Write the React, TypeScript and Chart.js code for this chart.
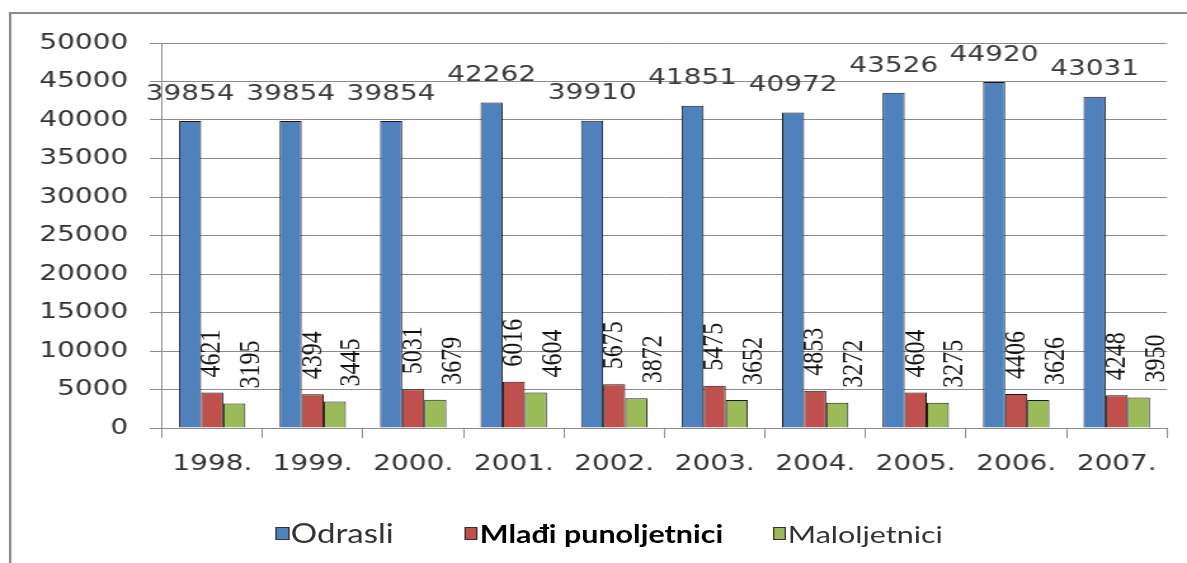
import React, { useEffect, useRef } from "react";
import { Chart, registerables } from "chart.js";

Chart.register(...registerables);

const years = ["1998.", "1999.", "2000.", "2001.", "2002.", "2003.", "2004.", "2005.", "2006.", "2007."];
const odrasli = [39854, 39854, 39854, 42262, 39910, 41851, 40972, 43526, 44920, 43031];
const mladiPunoljetnici = [4621, 4394, 5031, 6016, 5675, 5475, 4853, 4604, 4406, 4248];
const maloljetnici = [3195, 3445, 3679, 4604, 3872, 3652, 3272, 3275, 3626, 3950];
const seriesNames = ["Odrasli", "Mlađi punoljetnici", "Maloljetnici"];
const seriesColors = ["#4F81BD", "#C0504D", "#9BBB59"];
const yMax = 50000;
const yStep = 5000;

const W = 935;
const H = 563;
const STRETCH = 1187 / W;

const labelPlugin = {
  id: "barLabels",
  afterDatasetsDraw(chart: any) {
    const ctx = chart.ctx;
    ctx.save();
    chart.data.datasets.forEach((ds: any, i: number) => {
      const meta = chart.getDatasetMeta(i);
      meta.data.forEach((bar: any, j: number) => {
        const v = ds.data[j];
        const { x, y } = bar.getProps(["x", "y"], true);
        if (i === 0) {
          ctx.font = '22px "DejaVu Sans"';
          ctx.fillStyle = "#3a3a3a";
          ctx.textAlign = "center";
          ctx.textBaseline = "middle";
          ctx.fillText(String(v), x, y - 27);
        } else {
          ctx.save();
          ctx.translate(x + (i === 2 ? 13.4 : 0), y - 15);
          ctx.rotate(-Math.PI / 2);
          ctx.font = '24px "Liberation Serif"';
          ctx.fillStyle = "#111";
          ctx.textAlign = "left";
          ctx.textBaseline = "middle";
          ctx.fillText(String(v), 0, 0);
          ctx.restore();
        }
      });
    });
    ctx.restore();
  },
};

const legendItems = [
  { left: 217.4, font: '400 26px Lato', color: "#333" },
  { left: 366.3, font: '700 24px Lato', color: "#000" },
  { left: 608.9, font: '400 24px Lato', color: "#333" },
];

export default function App() {
  const ref = useRef<HTMLCanvasElement>(null);
  useEffect(() => {
    const gridColor = "#8c8c8c";
    const tickFont = { family: "DejaVu Sans", size: 22 };
    const tickColor = "#333";
    const chart = new Chart(ref.current!, {
      type: "bar",
      data: {
        labels: years,
        datasets: [odrasli, mladiPunoljetnici, maloljetnici].map((d, i) => ({
          label: seriesNames[i],
          data: d,
          backgroundColor: seriesColors[i],
          borderColor: "#1a1a1a",
          borderWidth: 1,
          categoryPercentage: 0.66,
          barPercentage: 1,
        })),
      },
      options: {
        responsive: false,
        animation: false,
        layout: { padding: { top: 43, right: 15.8, left: 0, bottom: 0 } },
        plugins: { legend: { display: false }, tooltip: { enabled: false } },
        scales: {
          x: {
            grid: { display: true, drawOnChartArea: false, drawTicks: true, tickLength: 10, color: gridColor, offset: true },
            border: { display: true, color: gridColor },
            ticks: { font: tickFont, color: tickColor, padding: 13, maxRotation: 0 },
            afterFit: (s: any) => {
              s.height = 135;
            },
          },
          y: {
            min: 0,
            max: yMax,
            ticks: {
              stepSize: yStep,
              font: tickFont,
              color: tickColor,
              padding: 17,
              callback: (v: any) => String(v),
            },
            grid: { color: gridColor, tickLength: 9.5 },
            border: { display: true, color: gridColor },
            afterFit: (s: any) => {
              s.width = 127.6;
            },
          },
        },
      },
      plugins: [labelPlugin],
    });
    return () => chart.destroy();
  }, []);

  return (
    <div
      style={{
        position: "fixed",
        left: 0,
        top: 0,
        width: W,
        height: H,
        transform: `scaleX(${STRETCH})`,
        transformOrigin: "0 0",
        overflow: "hidden",
        background: "#fff",
      }}
    >
      <div
        style={{
          position: "absolute",
          left: 6.5,
          top: 12,
          width: W - 6.5,
          height: H - 12,
          boxSizing: "border-box",
          borderLeft: "2.7px solid #8c8c8c",
          borderTop: "2px solid #8c8c8c",
        }}
      />
      <canvas ref={ref} width={W} height={H} style={{ position: "absolute", left: 0, top: 0, width: W, height: H }} />
      {seriesNames.map((name, i) => (
        <div
          key={name}
          style={{
            position: "absolute",
            left: legendItems[i].left,
            top: 517,
            height: 32,
            display: "flex",
            alignItems: "center",
            font: legendItems[i].font,
            color: legendItems[i].color,
            whiteSpace: "nowrap",
          }}
        >
          <span
            style={{
              display: "inline-block",
              width: 10.2,
              height: 13,
              background: seriesColors[i],
              border: "1px solid #333",
              boxSizing: "border-box",
              marginRight: 1.5,
            }}
          />
          <span>{name}</span>
        </div>
      ))}
    </div>
  );
}
